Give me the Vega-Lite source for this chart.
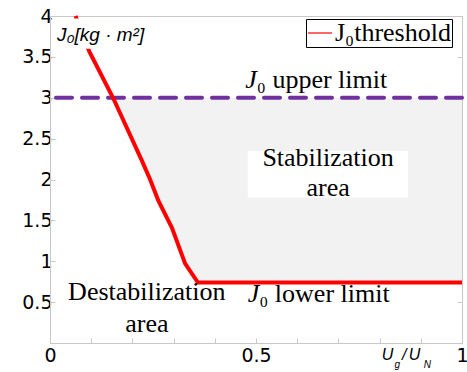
{
  "$schema": "https://vega.github.io/schema/vega-lite/v6.json",
  "width": 412,
  "height": 327,
  "autosize": {"type": "none"},
  "padding": {"left": 50, "top": 16, "right": 5, "bottom": 29},
  "background": "white",
  "config": {
    "view": {"stroke": "#c8c8c8", "strokeWidth": 1},
    "axis": {
      "domainColor": "#c8c8c8",
      "tickColor": "#c8c8c8",
      "labelColor": "black",
      "labelFont": "DejaVu Sans",
      "labelFontSize": 19,
      "grid": false,
      "title": null,
      "labelOverlap": false,
      "labelFlush": false
    }
  },
  "datasets": {
    "thr": [
      {"x": 0.062, "y": 4.0},
      {"x": 0.095, "y": 3.57},
      {"x": 0.153, "y": 3.0},
      {"x": 0.223, "y": 2.23},
      {"x": 0.243, "y": 2.0},
      {"x": 0.263, "y": 1.74},
      {"x": 0.296, "y": 1.41},
      {"x": 0.328, "y": 0.97},
      {"x": 0.359, "y": 0.74},
      {"x": 1.0, "y": 0.74}
    ]
  },
  "resolve": {"axis": {"y": "independent"}},
  "layer": [
    {
      "data": {"name": "thr"},
      "transform": [{"filter": "datum.x >= 0.153"}],
      "mark": {"type": "area", "color": "#f2f2f2", "opacity": 1},
      "encoding": {
        "x": {"field": "x", "type": "quantitative", "scale": {"domain": [0, 1], "nice": false, "zero": false},
          "axis": {"values": [0, 0.1, 0.2, 0.3, 0.4, 0.5, 0.6, 0.7, 0.8, 0.9, 1], "format": "~g", "labelExpr": "indexof([0, 0.5, 1], datum.value) >= 0 ? datum.label : ''", "tickSize": -5, "labelPadding": 8, "labelFlush": true, "labelFlushOffset": 6}},
        "y": {"field": "y", "type": "quantitative", "scale": {"domain": [0, 4], "nice": false, "zero": false},
          "axis": {"values": [0.5, 1, 1.5, 2, 2.5, 3, 3.5, 4], "format": "~g", "tickSize": -5, "labelPadding": 3}},
        "y2": {"datum": 3}
      }
    },
    {
      "data": {"values": [{"x": 0.48, "x2": 0.869, "y": 1.78, "y2": 2.35}]},
      "mark": {"type": "rect", "color": "white"},
      "encoding": {
        "x": {"field": "x", "type": "quantitative", "scale": {"domain": [0, 1]}},
        "x2": {"field": "x2"},
        "y": {"field": "y", "type": "quantitative", "scale": {"domain": [0, 4]}, "axis": null},
        "y2": {"field": "y2"}
      }
    },
    {
      "data": {"values": [{"y": 3.0}]},
      "mark": {"type": "rule", "color": "#7030a0", "strokeWidth": 4, "strokeDash": [16, 10], "strokeCap": "round"},
      "encoding": {
        "y": {"field": "y", "type": "quantitative", "scale": {"domain": [0, 4]},
          "axis": {"orient": "right", "values": [0.5, 1, 1.5, 2, 2.5, 3, 3.5, 4], "labels": false, "tickSize": -5}}
      }
    },
    {
      "data": {"name": "thr"},
      "mark": {"type": "line", "color": "red", "strokeWidth": 4},
      "encoding": {
        "x": {"field": "x", "type": "quantitative", "scale": {"domain": [0, 1]}},
        "y": {"field": "y", "type": "quantitative", "scale": {"domain": [0, 4]}, "axis": null},
        "color": {"datum": "J₀threshold", "type": "nominal", "scale": {"range": ["red"]},
          "legend": {"title": null, "orient": "none", "legendX": 256, "legendY": 3, "strokeColor": "black", "fillColor": "white", "padding": 1, "symbolType": "stroke", "symbolSize": 576, "symbolStrokeWidth": 1.2, "labelFont": "Liberation Serif", "labelFontSize": 26, "labelColor": "black", "labelOffset": 2, "labelLimit": 300}}
      }
    },
    {
      "data": {"values": [{"x": 0.005, "x2": 0.245, "y": 3.6, "y2": 3.97}, {"x": 0.789, "x2": 0.951, "y": -0.45, "y2": -0.03}]},
      "mark": {"type": "rect", "color": "white"},
      "encoding": {
        "x": {"field": "x", "type": "quantitative", "scale": {"domain": [0, 1]}},
        "x2": {"field": "x2"},
        "y": {"field": "y", "type": "quantitative", "scale": {"domain": [0, 4]}, "axis": null},
        "y2": {"field": "y2"}
      }
    },
    {
      "data": {"values": [{"t": "J", "x": 0.502, "y": 3.12}, {"t": "J", "x": 0.508, "y": 0.5}]},
      "mark": {"type": "text", "align": "right", "baseline": "alphabetic", "font": "Liberation Serif", "fontStyle": "italic", "fontSize": 26, "color": "black"},
      "encoding": {
        "x": {"field": "x", "type": "quantitative", "scale": {"domain": [0, 1]}},
        "y": {"field": "y", "type": "quantitative", "scale": {"domain": [0, 4]}, "axis": null},
        "text": {"field": "t"}
      }
    },
    {
      "data": {"values": [{"t": "₀ upper limit", "x": 0.502, "y": 3.12}, {"t": "₀ lower limit", "x": 0.508, "y": 0.5}]},
      "mark": {"type": "text", "align": "left", "baseline": "alphabetic", "font": "Liberation Serif", "fontSize": 26, "color": "black"},
      "encoding": {
        "x": {"field": "x", "type": "quantitative", "scale": {"domain": [0, 1]}},
        "y": {"field": "y", "type": "quantitative", "scale": {"domain": [0, 4]}, "axis": null},
        "text": {"field": "t"}
      }
    },
    {
      "data": {"values": [{"t": "Stabilization", "x": 0.675, "y": 2.16}, {"t": "area", "x": 0.675, "y": 1.8}, {"t": "Destabilization", "x": 0.235, "y": 0.52}, {"t": "area", "x": 0.235, "y": 0.13}]},
      "mark": {"type": "text", "align": "center", "baseline": "alphabetic", "font": "Liberation Serif", "fontSize": 26, "color": "black"},
      "encoding": {
        "x": {"field": "x", "type": "quantitative", "scale": {"domain": [0, 1]}},
        "y": {"field": "y", "type": "quantitative", "scale": {"domain": [0, 4]}, "axis": null},
        "text": {"field": "t"}
      }
    },
    {
      "data": {"values": [{"t": "J₀[kg · m²]", "x": 0.017, "y": 3.7}]},
      "mark": {"type": "text", "align": "left", "baseline": "alphabetic", "font": "Liberation Sans", "fontStyle": "italic", "fontSize": 19, "color": "black"},
      "encoding": {
        "x": {"field": "x", "type": "quantitative", "scale": {"domain": [0, 1]}},
        "y": {"field": "y", "type": "quantitative", "scale": {"domain": [0, 4]}, "axis": null},
        "text": {"field": "t"}
      }
    },
    {
      "data": {"values": [{"t": "U", "x": 0.819, "y": -0.146}, {"t": "/", "x": 0.86, "y": -0.146}, {"t": "U", "x": 0.885, "y": -0.146}]},
      "mark": {"type": "text", "align": "center", "baseline": "middle", "font": "Liberation Sans", "fontStyle": "italic", "fontSize": 16, "color": "black"},
      "encoding": {
        "x": {"field": "x", "type": "quantitative", "scale": {"domain": [0, 1]}},
        "y": {"field": "y", "type": "quantitative", "scale": {"domain": [0, 4]}, "axis": null},
        "text": {"field": "t"}
      }
    },
    {
      "data": {"values": [{"t": "g", "x": 0.843, "y": -0.274}, {"t": "N", "x": 0.916, "y": -0.27}]},
      "mark": {"type": "text", "align": "center", "baseline": "middle", "font": "Liberation Sans", "fontStyle": "italic", "fontSize": 10, "color": "black"},
      "encoding": {
        "x": {"field": "x", "type": "quantitative", "scale": {"domain": [0, 1]}},
        "y": {"field": "y", "type": "quantitative", "scale": {"domain": [0, 4]}, "axis": null},
        "text": {"field": "t"}
      }
    }
  ]
}
